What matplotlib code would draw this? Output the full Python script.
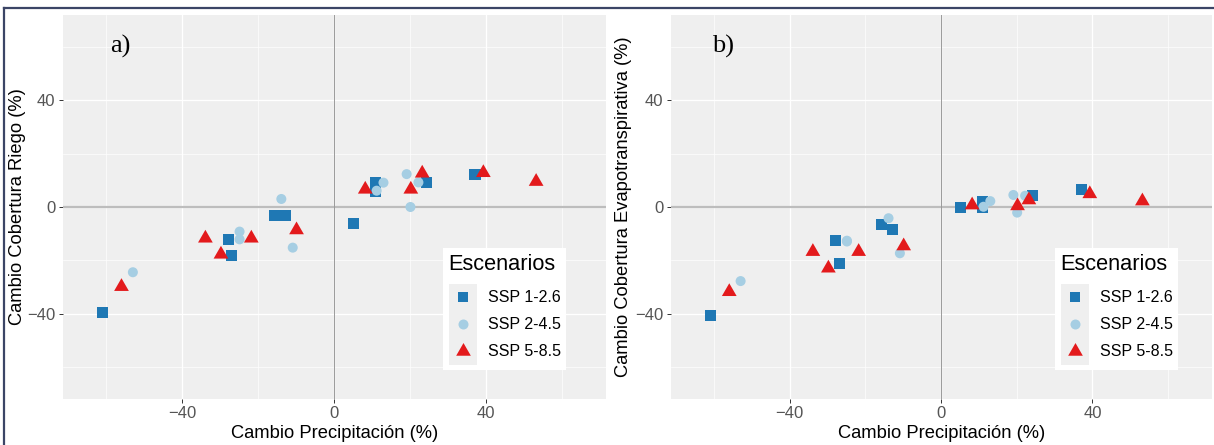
import matplotlib
matplotlib.use("Agg")
import matplotlib.pyplot as plt
from matplotlib.lines import Line2D
from matplotlib.patches import Patch
from matplotlib.legend_handler import HandlerTuple, HandlerLine2D
from matplotlib.ticker import FixedLocator
from matplotlib.path import Path

# ---------------- data ----------------
scenarios = ["SSP 1-2.6", "SSP 2-4.5", "SSP 5-8.5"]

precip_ssp126 = [-61.0, -27.8, -26.9, -15.8, -12.8, 5.1, 11.0, 11.0, 24.2, 37.1]
riego_ssp126 = [-39.5, -12.1, -18.3, -3.1, -3.1, -6.1, 9.2, 5.9, 9.1, 12.3]
evap_ssp126 = [-40.6, -12.7, -21.3, -6.4, -8.3, -0.1, 2.1, -0.1, 4.2, 6.6]

precip_ssp245 = [-53.0, -24.9, -24.9, -13.9, -10.9, 11.2, 13.0, 19.1, 22.2, 20.1]
riego_ssp245 = [-24.4, -9.2, -12.1, 3.0, -15.2, 6.1, 9.1, 12.3, 9.2, 0.0]
evap_ssp245 = [-27.7, -12.6, -12.9, -4.2, -17.3, 0.1, 2.2, 4.5, 4.2, -2.1]

precip_ssp585 = [-56.0, -33.9, -29.8, -21.8, -9.9, 8.2, 23.2, 20.2, 39.3, 53.2]
riego_ssp585 = [-29.8, -11.7, -17.7, -11.7, -8.6, 6.6, 12.6, 6.6, 12.8, 9.5]
evap_ssp585 = [-31.7, -16.7, -22.9, -16.7, -14.6, 0.7, 2.6, 0.4, 4.9, 2.2]

major_ticks = [-40, 0, 40]
minor_ticks = [-60, -20, 20, 60]
panel_labels = ["a)", "b)"]
xlabel = "Cambio Precipitación (%)"
ylabels = ["Cambio Cobertura Riego (%)", "Cambio Cobertura Evapotranspirativa (%)"]
legend_title = "Escenarios"

# ---------------- style ----------------
colors = ["#1F78B4", "#A6CEE3", "#E31A1C"]
tri = Path([(0, 1), (-0.866, -0.5), (0.866, -0.5), (0, 1)],
           [Path.MOVETO, Path.LINETO, Path.LINETO, Path.CLOSEPOLY])
markers = ["s", "o", tri]
sizes = [63, 52, 150]
msizes = [7.9, 7.2, 12.2]
bg = "#EFEFEF"

plt.rcParams["font.family"] = ["Liberation Sans", "DejaVu Sans"]


class CenteredLineHandler(HandlerLine2D):
    """Marker placed at the vertical centre of the legend key box."""

    def create_artists(self, legend, orig_handle, xdescent, ydescent,
                       width, height, fontsize, trans):
        artists = super().create_artists(legend, orig_handle, xdescent,
                                         ydescent, width, height, fontsize,
                                         trans)
        for a in artists:
            yd = a.get_ydata()
            a.set_ydata([height / 2 - ydescent] * len(yd))
        return artists


W, H = 1214, 445
fig = plt.figure(figsize=(W / 100, H / 100), dpi=100)


def fx(px):
    return px / W


def fy(py):
    return 1 - py / H


axA = fig.add_axes([fx(63), fy(399), fx(606) - fx(63), fy(15) - fy(399)])
axB = fig.add_axes([fx(671), fy(399), fx(1212) - fx(671), fy(15) - fy(399)])

series_x = [precip_ssp126, precip_ssp245, precip_ssp585]
series_y = [[riego_ssp126, riego_ssp245, riego_ssp585],
            [evap_ssp126, evap_ssp245, evap_ssp585]]

leg_x = [0.700, 0.7098]
ylabel_x = [-0.0847, -0.0887]

for i, ax in enumerate([axA, axB]):
    ax.set_facecolor(bg)
    for s in ax.spines.values():
        s.set_visible(False)
    ax.set_xlim(-71.4, 71.6)
    ax.set_ylim(-71.8, 71.8)
    ax.xaxis.set_major_locator(FixedLocator(major_ticks))
    ax.yaxis.set_major_locator(FixedLocator(major_ticks))
    ax.xaxis.set_minor_locator(FixedLocator(minor_ticks))
    ax.yaxis.set_minor_locator(FixedLocator(minor_ticks))
    ax.set_axisbelow(True)
    ax.grid(which="major", color="white", linewidth=0.9)
    ax.grid(which="minor", color="white", linewidth=0.45)
    ax.tick_params(which="major", length=2.75, width=0.7, color="#333333",
                   labelsize=12, labelcolor="#555555", pad=2.6)
    ax.tick_params(which="minor", length=0)
    ax.axhline(0, color="#BDBDBD", linewidth=1.6, zorder=1.5)
    ax.axvline(0, color="#9A9A9A", linewidth=0.7, zorder=1.5)

    for k in range(3):
        ax.scatter(series_x[k], series_y[i][k], marker=markers[k], s=sizes[k],
                   color=colors[k], edgecolors="none", zorder=3)

    ax.set_xlabel(xlabel, fontsize=13.2, color="black")
    ax.set_ylabel(ylabels[i], fontsize=13.2, color="black")
    ax.xaxis.set_label_coords(0.5, -0.091)
    ax.xaxis.label.set_va("center")
    ax.yaxis.set_label_coords(ylabel_x[i], 0.5)
    ax.yaxis.label.set_va("center")

    ax.text(0.0866 if i == 0 else 0.0758, 0.919, panel_labels[i],
            transform=ax.transAxes, ha="left", va="center",
            fontsize=19, family=["Liberation Serif", "DejaVu Serif"])

    handles = []
    for k in range(3):
        handles.append((Patch(facecolor=bg, edgecolor="none"),
                        Line2D([], [], marker=markers[k], markersize=msizes[k],
                               color=colors[k], linestyle="none",
                               markeredgewidth=0)))
    leg = ax.legend(handles, scenarios, title=legend_title,
                    handler_map={tuple: HandlerTuple(ndivide=1, pad=0),
                                 Line2D: CenteredLineHandler()},
                    loc="upper left", bbox_to_anchor=(leg_x[i], 0.393),
                    bbox_transform=ax.transAxes, borderaxespad=0,
                    prop={"size": 11.5}, title_fontsize=15.7,
                    labelspacing=0, handleheight=2.224, handlelength=1.75,
                    handletextpad=0.69, borderpad=0.35, frameon=True,
                    fancybox=False, framealpha=1, alignment="left")
    leg.get_frame().set_facecolor("white")
    leg.get_frame().set_edgecolor("none")
    leg._legend_box.sep = 6.5

# figure border (top and left)
border_color = "#3B4566"
fig.add_artist(Line2D([fx(4), fx(4)], [0, fy(8)], color=border_color,
                      linewidth=1.6, transform=fig.transFigure))
fig.add_artist(Line2D([fx(4), 1], [fy(8), fy(8)], color=border_color,
                      linewidth=1.6, transform=fig.transFigure))

fig.savefig("out.png", dpi=100)
